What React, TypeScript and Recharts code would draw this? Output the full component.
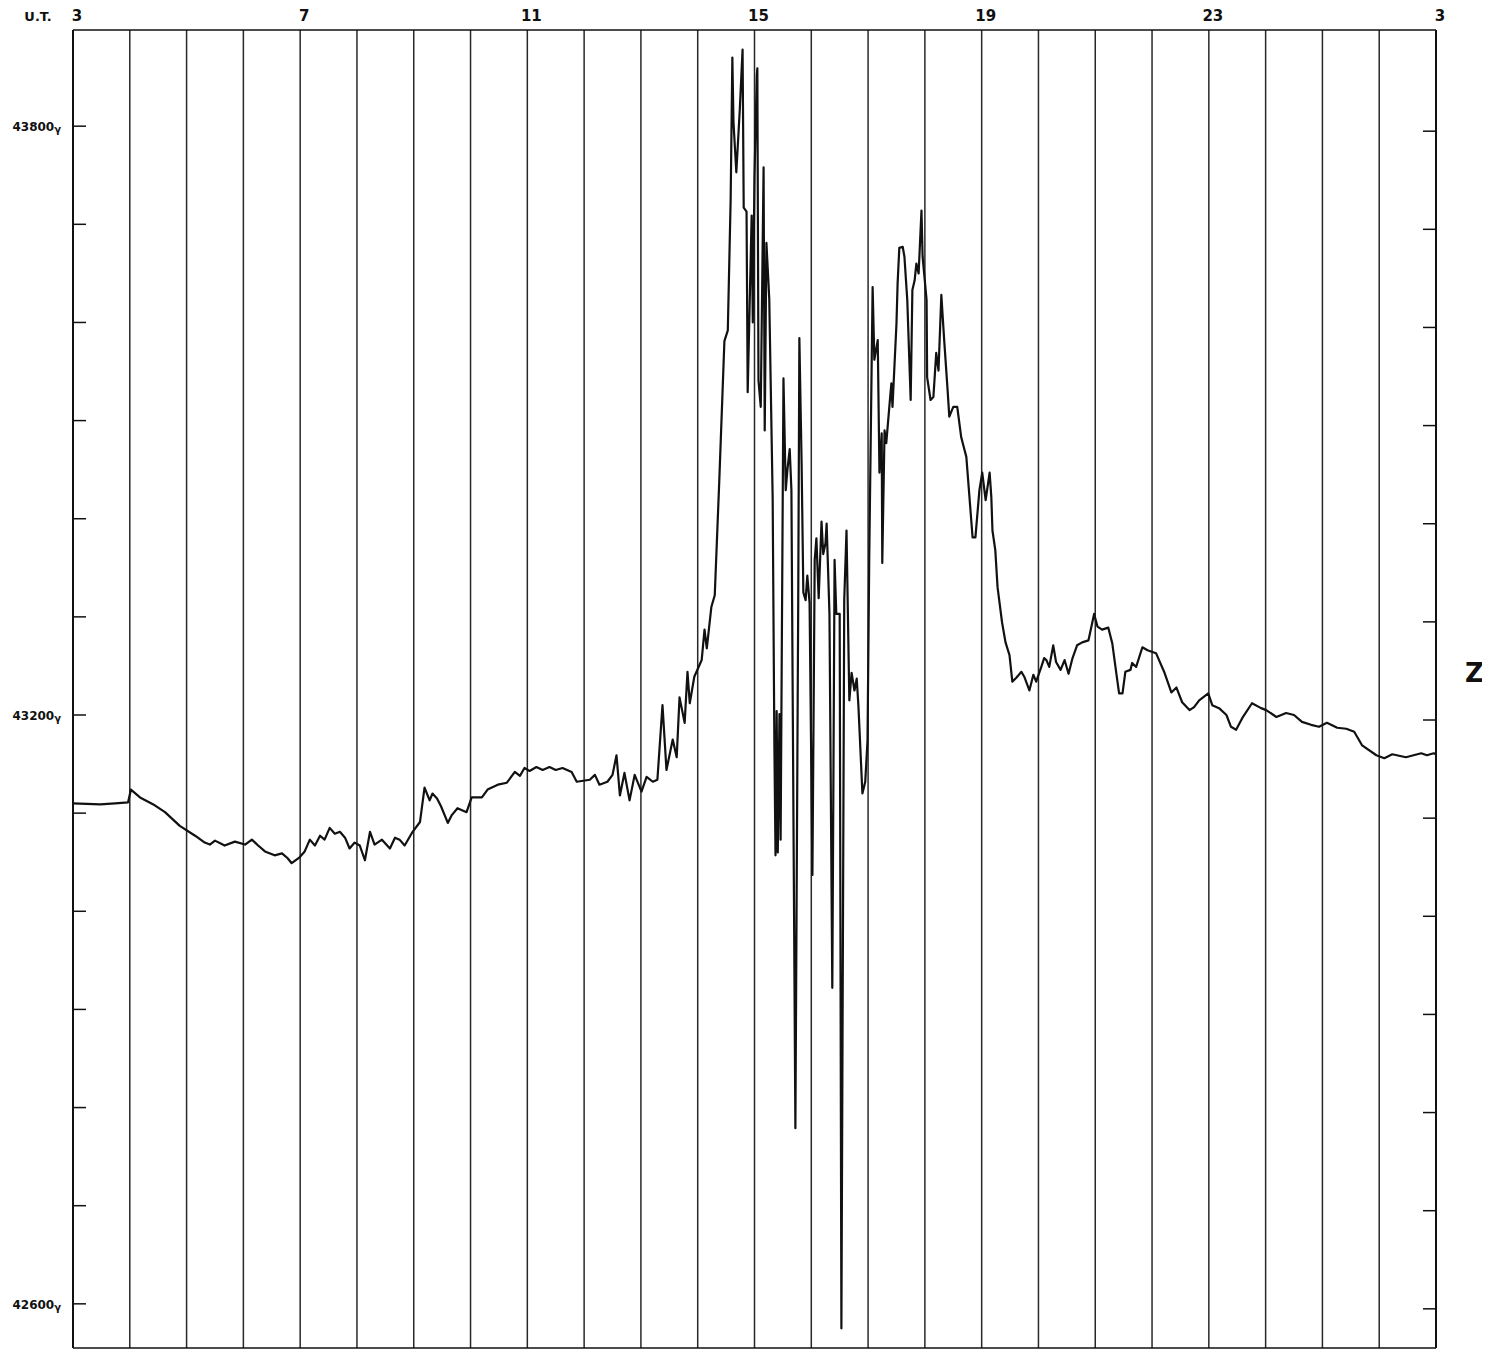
import { LineChart, Line, XAxis, YAxis, CartesianGrid } from 'recharts'

// Z-component magnetogram, U.T. 3 to 3 next day; [hour (UT, continuing past 24), gamma]
const quietPhase: [number, number][] = [
  [3.0, 43110], [3.48, 43109], [3.74, 43110], [3.97, 43111], [4.02, 43124], [4.18, 43116],
  [4.44, 43108], [4.62, 43101], [4.88, 43087], [5.15, 43077], [5.32, 43070], [5.41, 43068],
  [5.5, 43072], [5.67, 43067], [5.85, 43071], [6.03, 43068], [6.15, 43073], [6.26, 43067],
  [6.38, 43061], [6.55, 43057], [6.68, 43059], [6.78, 43054], [6.85, 43049], [6.99, 43055],
  [7.08, 43061], [7.17, 43073], [7.26, 43067], [7.35, 43077], [7.43, 43073], [7.52, 43085],
  [7.61, 43079], [7.7, 43081], [7.79, 43075], [7.87, 43064], [7.96, 43070], [8.05, 43067],
  [8.14, 43052], [8.23, 43081], [8.31, 43068], [8.44, 43073], [8.58, 43064], [8.67, 43075],
  [8.75, 43073], [8.84, 43067], [8.98, 43081], [9.11, 43091], [9.19, 43126], [9.28, 43113],
  [9.33, 43120], [9.41, 43115], [9.48, 43107], [9.6, 43090], [9.67, 43098], [9.77, 43105],
  [9.93, 43101], [10.02, 43116], [10.2, 43116], [10.3, 43124], [10.48, 43129], [10.64, 43131],
  [10.78, 43142], [10.87, 43138], [10.95, 43146], [11.04, 43143], [11.16, 43147], [11.27, 43144],
  [11.39, 43147], [11.5, 43144], [11.62, 43146], [11.78, 43142], [11.87, 43132], [12.1, 43134],
  [12.19, 43139], [12.27, 43129], [12.41, 43132], [12.5, 43139], [12.57, 43159], [12.63, 43118],
  [12.71, 43141], [12.8, 43113], [12.89, 43139], [13.01, 43122], [13.1, 43137], [13.21, 43132],
  [13.29, 43134], [13.38, 43210], [13.45, 43144], [13.56, 43175], [13.63, 43157], [13.68, 43218],
  [13.77, 43192], [13.82, 43244], [13.86, 43212], [13.94, 43239], [14.07, 43256], [14.12, 43287],
  [14.16, 43268], [14.24, 43310], [14.3, 43322],
]

const stormPhase: [number, number][] = [
  [14.38, 43439], [14.47, 43581], [14.53, 43592], [14.58, 43725], [14.61, 43870], [14.63, 43804],
  [14.68, 43753], [14.74, 43816], [14.79, 43878], [14.81, 43717], [14.86, 43713], [14.88, 43529],
  [14.95, 43709], [14.97, 43600], [15.0, 43749], [15.04, 43851], [15.05, 43859], [15.07, 43541],
  [15.11, 43514], [15.16, 43758], [15.18, 43490], [15.21, 43681], [15.26, 43624], [15.32, 43420],
  [15.35, 43170], [15.37, 43057], [15.39, 43204], [15.41, 43060], [15.44, 43201], [15.46, 43073],
  [15.51, 43543], [15.55, 43429], [15.58, 43450], [15.62, 43471], [15.65, 43429], [15.72, 42779],
  [15.77, 43317], [15.79, 43584], [15.83, 43455], [15.86, 43325], [15.9, 43317], [15.93, 43342],
  [15.97, 43314], [16.02, 43037], [16.06, 43358], [16.09, 43380], [16.13, 43319], [16.18, 43397],
  [16.21, 43364], [16.25, 43375], [16.27, 43395], [16.32, 43303], [16.37, 42922], [16.41, 43358],
  [16.44, 43303], [16.5, 43303], [16.53, 42575], [16.58, 43317], [16.62, 43388], [16.67, 43215],
  [16.71, 43243], [16.76, 43225], [16.8, 43237], [16.83, 43209], [16.9, 43120], [16.95, 43132],
  [16.99, 43174], [17.02, 43358],
]

const recoveryPhase: [number, number][] = [
  [17.08, 43636], [17.11, 43562], [17.17, 43582], [17.2, 43447], [17.24, 43487], [17.25, 43355],
  [17.29, 43490], [17.32, 43477], [17.38, 43518], [17.41, 43538], [17.43, 43514], [17.5, 43599],
  [17.52, 43640], [17.55, 43676], [17.61, 43677], [17.64, 43667], [17.69, 43623], [17.75, 43521],
  [17.78, 43633], [17.82, 43643], [17.85, 43660], [17.89, 43650], [17.94, 43714], [17.96, 43667],
  [18.03, 43623], [18.04, 43544], [18.1, 43521], [18.15, 43524], [18.2, 43569], [18.24, 43551],
  [18.29, 43628], [18.34, 43582], [18.4, 43531], [18.43, 43504], [18.5, 43514], [18.57, 43514],
  [18.64, 43483], [18.73, 43463], [18.84, 43381], [18.89, 43381], [18.96, 43429], [19.01, 43447],
  [19.07, 43419], [19.14, 43447], [19.17, 43422], [19.19, 43388], [19.24, 43368], [19.28, 43330],
]

const eveningPhase: [number, number][] = [
  [19.36, 43294], [19.42, 43274], [19.49, 43261], [19.54, 43234], [19.61, 43238], [19.7, 43244],
  [19.75, 43239], [19.84, 43225], [19.91, 43241], [19.96, 43234], [20.05, 43249], [20.1, 43258],
  [20.14, 43256], [20.19, 43249], [20.26, 43271], [20.31, 43254], [20.39, 43246], [20.46, 43256],
  [20.53, 43242], [20.6, 43258], [20.68, 43271], [20.77, 43274], [20.88, 43276], [20.98, 43303],
  [21.04, 43290], [21.12, 43287], [21.23, 43289], [21.3, 43273], [21.37, 43243], [21.42, 43222],
  [21.48, 43222], [21.53, 43244], [21.62, 43246], [21.65, 43253], [21.72, 43249], [21.83, 43269],
  [21.92, 43266], [22.07, 43263], [22.22, 43243], [22.34, 43223], [22.43, 43228], [22.53, 43213],
  [22.66, 43205], [22.74, 43208], [22.83, 43215], [22.99, 43222], [23.06, 43210], [23.18, 43207],
  [23.31, 43200], [23.39, 43188], [23.48, 43185], [23.59, 43197], [23.76, 43212], [23.92, 43207],
  [24.01, 43205], [24.19, 43198], [24.36, 43202], [24.5, 43200], [24.64, 43193], [24.8, 43190],
  [24.94, 43188], [25.08, 43192], [25.26, 43187], [25.42, 43186], [25.56, 43183], [25.7, 43169],
  [25.95, 43159], [26.09, 43156], [26.23, 43160], [26.47, 43157], [26.74, 43161], [26.84, 43159],
  [26.96, 43161], [27.0, 43160],
]

const hourTicks = [3, 4, 5, 6, 7, 8, 9, 10, 11, 12, 13, 14, 15, 16, 17, 18, 19, 20, 21, 22, 23, 24, 25, 26, 27]
const hourLabels = [3, 7, 11, 15, 19, 23, 27]
const gammaTicks = [42600, 42700, 42800, 42900, 43000, 43100, 43200, 43300, 43400, 43500, 43600, 43700, 43800]
const gammaLabels = [42600, 43200, 43800]

const trace = [...quietPhase, ...stormPhase, ...recoveryPhase, ...eveningPhase].map(([ut, z]) => ({ ut, z }))

const INK = '#111'
const FONT = '"DejaVu Sans", "Liberation Sans", sans-serif'

function HourTick({ x, y, payload }: any) {
  const v = payload.value
  if (!hourLabels.includes(v)) return null
  const label = v > 24 ? v - 24 : v
  return (
    <g>
      {v === 3 && (
        <text x={x - 35} y={y - 8} textAnchor="middle" fontFamily={FONT} fontWeight="bold" fontSize={13} fill={INK}>
          U.T.
        </text>
      )}
      <text x={x + 4} y={y - 8} textAnchor="middle" fontFamily={FONT} fontWeight="bold" fontSize={15} fill={INK}>
        {label}
      </text>
    </g>
  )
}

function LeftGammaTick({ x, y, payload }: any) {
  const v = payload.value
  return (
    <g>
      <line x1={x} x2={x + 14} y1={y} y2={y} stroke={INK} strokeWidth={1.5} />
      {gammaLabels.includes(v) && (
        <text x={x - 11} y={y + 5} textAnchor="end" fontFamily={FONT} fontWeight={600} fontSize={12} fill={INK}>
          {v}
          <tspan fontSize={10} dy={2}>γ</tspan>
        </text>
      )}
    </g>
  )
}

function RightGammaTick({ x, y }: any) {
  return <line x1={x - 14} x2={x} y1={y + 5} y2={y + 5} stroke={INK} strokeWidth={1.5} />
}

export default function App() {
  return (
    <div style={{ position: 'relative', width: 1482, height: 1345 }}>
      <LineChart
        width={1482}
        height={1345}
        data={trace}
        margin={{ top: 21, right: 53, bottom: 4, left: 64 }}
      >
        <CartesianGrid horizontal={false} stroke={INK} strokeWidth={1.5} strokeOpacity={0.9} />
        <XAxis
          dataKey="ut"
          type="number"
          domain={[3, 27]}
          ticks={hourTicks}
          interval={0}
          orientation="top"
          height={1}
          tickSize={1}
          tickMargin={0}
          tickLine={false}
          axisLine={{ stroke: INK, strokeWidth: 1.5 }}
          tick={(p: any) => <HourTick {...p} />}
          allowDataOverflow
        />
        <XAxis
          xAxisId="bottom"
          dataKey="ut"
          type="number"
          domain={[3, 27]}
          orientation="bottom"
          height={1}
          tick={false}
          tickLine={false}
          axisLine={{ stroke: INK, strokeWidth: 1.5 }}
        />
        <YAxis
          type="number"
          domain={[42555, 43898]}
          ticks={gammaTicks}
          interval={0}
          width={1}
          tickSize={1}
          tickMargin={0}
          tickLine={false}
          axisLine={{ stroke: INK, strokeWidth: 2 }}
          tick={(p: any) => <LeftGammaTick {...p} />}
          allowDataOverflow
        />
        <YAxis
          yAxisId="right"
          orientation="right"
          type="number"
          domain={[42555, 43898]}
          ticks={gammaTicks}
          interval={0}
          width={1}
          tickSize={1}
          tickMargin={0}
          tickLine={false}
          axisLine={{ stroke: INK, strokeWidth: 2 }}
          tick={(p: any) => <RightGammaTick {...p} />}
          allowDataOverflow
        />
        <Line
          dataKey="z"
          type="linear"
          stroke={INK}
          strokeWidth={2.2}
          strokeLinejoin="round"
          dot={false}
          isAnimationActive={false}
        />
      </LineChart>
      <div
        style={{
          position: 'absolute',
          left: 1457,
          top: 650,
          fontFamily: FONT,
          fontWeight: 'bold',
          fontSize: 26,
          lineHeight: '30px',
          color: INK,
        }}
      >
        Z
      </div>
    </div>
  )
}
